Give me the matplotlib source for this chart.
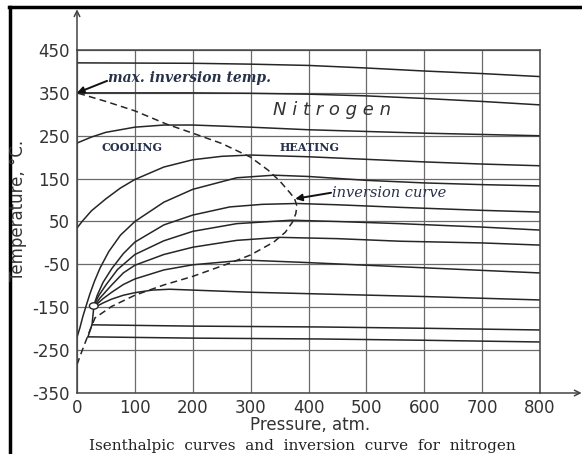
import matplotlib.pyplot as plt
from matplotlib.lines import Line2D
from matplotlib.patches import Ellipse

plt.rcParams['axes.unicode_minus'] = False

# isenthalpic curves for nitrogen (pressure atm, temperature C)
p1 = [0, 200, 300, 400, 500, 600, 700, 800]
t1 = [420, 419, 417, 414, 408, 401, 395, 388]

p2 = [0, 200, 300, 400, 500, 600, 700, 800]
t2 = [350, 350, 349, 347, 343, 337, 330, 322]

p3 = [0, 25, 50, 100, 150, 200, 300, 400, 500, 600, 700, 800]
t3 = [233, 247, 258, 270, 275, 275, 270, 264, 260, 256, 253, 250]

p4 = [0, 10, 25, 50, 75, 100, 150, 200, 250, 300, 400, 500, 600, 700, 800]
t4 = [35, 52, 75, 103, 128, 148, 177, 194, 202, 205, 201, 195, 189, 184, 180]

p5 = [0, 5, 10, 15, 22, 30, 40, 55, 75, 100, 150, 200, 276, 340, 400, 500, 600, 700, 800]
t5 = [-220, -198, -172, -150, -120, -90, -58, -20, 18, 50, 95, 125, 152, 158, 155, 146, 140, 136, 133]

p6 = [29, 35, 45, 60, 80, 100, 150, 200, 264, 320, 380, 450, 558, 700, 800]
t6 = [-146, -122, -92, -60, -25, 2, 42, 65, 84, 90, 92, 89, 83, 76, 72]

p7 = [29, 38, 50, 70, 100, 150, 200, 276, 370, 450, 558, 700, 800]
t7 = [-146, -122, -98, -62, -27, 5, 27, 45, 53, 50, 45, 37, 30]

p8 = [30, 40, 60, 80, 100, 150, 200, 276, 350, 450, 558, 700, 800]
t8 = [-147, -128, -98, -70, -52, -27, -10, 6, 13, 10, 4, 0, -5]

p9 = [30, 45, 60, 80, 100, 150, 200, 290, 385, 500, 600, 700, 800]
t9 = [-148, -130, -115, -97, -84, -63, -51, -40, -45, -52, -58, -64, -70]

p10 = [31, 45, 60, 80, 100, 130, 160, 200, 300, 420, 600, 800]
t10 = [-150, -140, -131, -122, -116, -110, -108, -110, -115, -119, -125, -133]

p11 = [26, 200, 420, 600, 800]
t11 = [-191, -194, -196, -199, -203]

p12 = [19, 200, 420, 600, 800]
t12 = [-219, -222, -224, -227, -231]

curves = [(p1, t1), (p2, t2), (p3, t3), (p4, t4), (p5, t5), (p6, t6),
          (p7, t7), (p8, t8), (p9, t9), (p10, t10), (p11, t11), (p12, t12)]

# saturated vapour edge below the critical point
p_sat = [29, 26, 19]
t_sat = [-150, -190, -219]

# inversion curve (dashed)
p_inv = [0, 5, 12, 22, 31, 60, 100, 150, 200, 264, 300, 340, 360, 372, 378, 380,
         376, 368, 350, 330, 300, 250, 200, 155, 100, 50, 0]
t_inv = [-284, -265, -240, -205, -175, -148, -122, -98, -78, -47, -28, 2, 25, 48, 68, 86,
         103, 117, 145, 170, 200, 232, 256, 277, 308, 330, 350]

crit_p, crit_t = 29, -147

x_ticks = list(range(0, 801, 100))
y_ticks = list(range(-350, 451, 100))

ink = '#262626'
navy = '#27324a'

fig = plt.figure(figsize=(5.82, 4.54), dpi=100)
ax = fig.add_axes([77/582, 1-393/454, 463/582, 343/454])

ax.set_xlim(0, 800)
ax.set_ylim(-350, 450)
ax.set_xticks(x_ticks)
ax.set_yticks(y_ticks)
ax.tick_params(length=0, labelsize=12, labelcolor='#333333')
ax.tick_params(axis='x', pad=4)
ax.tick_params(axis='y', pad=5)
ax.grid(True, color='#6a6a6a', lw=0.9)
ax.set_axisbelow(True)
for s in ax.spines.values():
    s.set_color('#444444')
    s.set_linewidth(1.1)

for p, t in curves:
    ax.plot(p, t, color=ink, lw=1.1)
ax.plot(p_sat, t_sat, color=ink, lw=1.1)
ax.plot(p_inv, t_inv, color=ink, lw=1.1, dashes=(4.5, 2.8))
ax.add_patch(Ellipse((crit_p, crit_t), 15, 15, facecolor='white', edgecolor=ink, lw=1.0, zorder=5))

# axis arrows
ax.annotate('', xy=(0, 545), xytext=(0, 450), annotation_clip=False,
            arrowprops=dict(arrowstyle='->', color='#444444', lw=1.1, shrinkA=0, shrinkB=0))
ax.annotate('', xy=(872, -350), xytext=(800, -350), annotation_clip=False,
            arrowprops=dict(arrowstyle='->', color='#444444', lw=1.1, shrinkA=0, shrinkB=0))

# labels inside the chart
ax.text(54, 385, 'max. inversion temp.', ha='left', va='center', family='DejaVu Serif',
        style='italic', weight='bold', fontsize=10, color=navy)
ax.annotate('', xy=(0, 350), xytext=(52, 378),
            arrowprops=dict(arrowstyle='-|>', color='#111111', lw=1.4, shrinkA=0, shrinkB=0,
                            mutation_scale=10))
ax.text(440, 117, 'inversion curve', ha='left', va='center', family='DejaVu Serif',
        style='italic', fontsize=10.5, color=navy)
ax.annotate('', xy=(377, 103), xytext=(439, 117),
            arrowprops=dict(arrowstyle='-|>', color='#111111', lw=1.4, shrinkA=0, shrinkB=0,
                            mutation_scale=10))
ax.text(339, 310, 'N i t r o g e n', ha='left', va='center', style='italic',
        fontsize=13, color='#333333')
ax.text(95, 222, 'COOLING', ha='center', va='center', family='DejaVu Serif',
        weight='bold', fontsize=8, color=navy)
ax.text(402, 222, 'HEATING', ha='center', va='center', family='DejaVu Serif',
        weight='bold', fontsize=8, color=navy)

fig.text(18/582, 1-210/454, 'Temperature, °C.', rotation=90, ha='center', va='center',
         fontsize=12, color='#333333')
fig.text(310/582, 1-416/454, 'Pressure, atm.', ha='center', va='top',
         fontsize=12, color='#333333')
fig.text(302/582, 1-446/454, 'Isenthalpic  curves  and  inversion  curve  for  nitrogen',
         ha='center', va='center', family='DejaVu Serif', fontsize=11, color='#222222')

# black frame on the top and left edge of the scan
fig.add_artist(Line2D([9/582, 1], [1-7/454, 1-7/454], transform=fig.transFigure,
                      color='black', lw=2.5))
fig.add_artist(Line2D([10/582, 10/582], [0, 1-7/454], transform=fig.transFigure,
                      color='black', lw=2.5))

fig.savefig('out.png', dpi=100, facecolor='white')
